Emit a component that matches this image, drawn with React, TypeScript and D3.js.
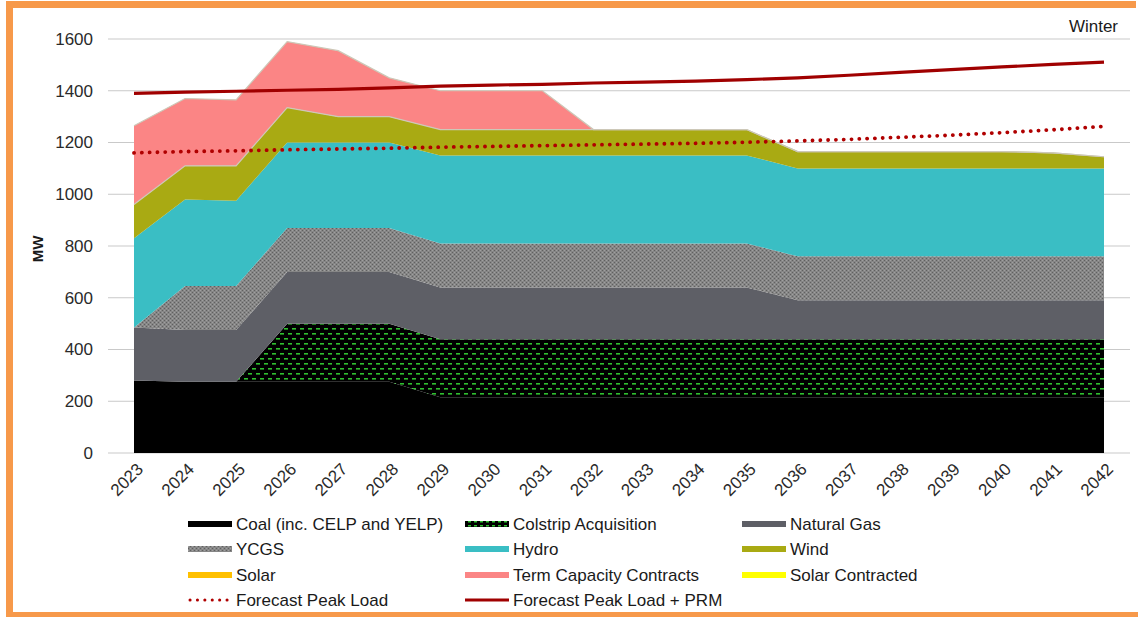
import React from "react";
import * as d3 from "d3";

// Winter capacity stack (MW) by year
const years = [2023, 2024, 2025, 2026, 2027, 2028, 2029, 2030, 2031, 2032, 2033, 2034, 2035, 2036, 2037, 2038, 2039, 2040, 2041, 2042];
const coal = [280, 275, 275, 275, 275, 275, 215, 215, 215, 215, 215, 215, 215, 215, 215, 215, 215, 215, 215, 215];
const colstrip = [0, 0, 0, 225, 225, 225, 225, 225, 225, 225, 225, 225, 225, 225, 225, 225, 225, 225, 225, 225];
const naturalGas = [205, 200, 200, 200, 200, 200, 200, 200, 200, 200, 200, 200, 200, 150, 150, 150, 150, 150, 150, 150];
const ycgs = [0, 170, 170, 170, 170, 170, 170, 170, 170, 170, 170, 170, 170, 170, 170, 170, 170, 170, 170, 170];
const hydro = [345, 335, 330, 330, 330, 330, 340, 340, 340, 340, 340, 340, 340, 340, 340, 340, 340, 340, 340, 340];
const wind = [130, 130, 135, 135, 100, 100, 100, 100, 100, 100, 100, 100, 100, 65, 65, 65, 65, 65, 60, 45];
const solar = [0, 0, 0, 0, 0, 0, 0, 0, 0, 0, 0, 0, 0, 0, 0, 0, 0, 0, 0, 0];
const termContracts = [305, 260, 255, 255, 255, 150, 150, 150, 150, 0, 0, 0, 0, 0, 0, 0, 0, 0, 0, 0];
const solarContracted = [0, 0, 0, 0, 0, 0, 0, 0, 0, 0, 0, 0, 0, 0, 0, 0, 0, 0, 0, 0];
const peakLoad = [1160, 1165, 1168, 1172, 1175, 1178, 1182, 1185, 1188, 1191, 1194, 1197, 1201, 1206, 1212, 1220, 1228, 1238, 1249, 1262];
const peakLoadPrm = [1390, 1395, 1398, 1402, 1405, 1411, 1418, 1422, 1425, 1430, 1433, 1437, 1443, 1450, 1460, 1471, 1482, 1492, 1502, 1511];
const yTicks = [0, 200, 400, 600, 800, 1000, 1200, 1400, 1600];

const seriesKeys = ["coal", "colstrip", "gas", "ycgs", "hydro", "wind", "solar", "term", "solarC"];
const seriesValues: Record<string, number[]> = {
  coal, colstrip, gas: naturalGas, ycgs, hydro, wind, solar, term: termContracts, solarC: solarContracted,
};
const seriesFill: Record<string, string> = {
  coal: "#000000",
  colstrip: "url(#colstripPat)",
  gas: "#5e5f66",
  ycgs: "url(#ycgsPat)",
  hydro: "#3abec4",
  wind: "#a9aa13",
  solar: "#ffc000",
  term: "#fb8585",
  solarC: "#ffff00",
};

const legendItems = [
  { label: "Coal (inc. CELP and YELP)", kind: "box", fill: "#000000" },
  { label: "Colstrip Acquisition", kind: "box", fill: "url(#colstripLeg)" },
  { label: "Natural Gas", kind: "box", fill: "#5e5f66" },
  { label: "YCGS", kind: "box", fill: "url(#ycgsPat)" },
  { label: "Hydro", kind: "box", fill: "#3abec4" },
  { label: "Wind", kind: "box", fill: "#a9aa13" },
  { label: "Solar", kind: "box", fill: "#ffc000" },
  { label: "Term Capacity Contracts", kind: "box", fill: "#fb8585" },
  { label: "Solar Contracted", kind: "box", fill: "#ffff00" },
  { label: "Forecast Peak Load", kind: "dot", fill: "#b00000" },
  { label: "Forecast Peak Load + PRM", kind: "line", fill: "#a00000" },
];

const ORANGE = "#f7994a";
const FONT = "Arial, 'Liberation Sans', Helvetica, sans-serif";

export default function App() {
  const W = 1138;
  const H = 617;
  const plotLeft = 108;
  const plotRight = 1130;

  const x = d3.scalePoint<number>().domain(years).range([134, 1104]);
  const y = d3.scaleLinear().domain([0, 1600]).range([453, 39]);

  const rows = years.map((yr, i) => {
    const r: Record<string, number> = { year: yr };
    seriesKeys.forEach((k) => (r[k] = seriesValues[k][i]));
    return r;
  });
  const stacked = d3.stack<Record<string, number>>().keys(seriesKeys)(rows);

  const area = d3
    .area<d3.SeriesPoint<Record<string, number>>>()
    .x((d) => x(d.data.year) as number)
    .y0((d) => y(d[0]))
    .y1((d) => y(d[1]));

  const topLine = d3
    .line<d3.SeriesPoint<Record<string, number>>>()
    .x((d) => x(d.data.year) as number)
    .y((d) => y(d[1]));

  const loadLine = d3
    .line<number>()
    .x((_, i) => x(years[i]) as number)
    .y((v) => y(v));

  const windLayer = stacked.find((s) => s.key === "wind")!;
  const termLayer = stacked.find((s) => s.key === "term")!;

  const colX = [188, 465, 742];
  const rowY = [524, 549, 575, 600];

  return (
    <svg
      width={W}
      height={H}
      style={{ position: "absolute", left: 0, top: 0, background: "#ffffff" }}
      fontFamily={FONT}
    >
      <defs>
        <pattern id="ycgsPat" width="4" height="4" patternUnits="userSpaceOnUse">
          <rect width="4" height="4" fill="#868686" />
          <rect x="0" y="0" width="1" height="1" fill="#606060" />
          <rect x="2" y="2" width="1" height="1" fill="#606060" />
          <rect x="2" y="0" width="1" height="1" fill="#a0a0a0" />
          <rect x="0" y="2" width="1" height="1" fill="#a0a0a0" />
        </pattern>
        <pattern id="colstripPat" width="8" height="10" patternUnits="userSpaceOnUse" y="2">
          <rect width="8" height="10" fill="#000000" />
          <rect x="0" y="1" width="4" height="1.6" fill="#2fbf2f" />
          <rect x="4" y="6" width="4" height="1.6" fill="#2fbf2f" />
        </pattern>
        <pattern id="colstripLeg" width="6" height="4" patternUnits="userSpaceOnUse">
          <rect width="6" height="4" fill="#000000" />
          <rect x="0" y="1" width="3" height="1.5" fill="#2fbf2f" />
        </pattern>
      </defs>

      {/* frame */}
      <rect x={6} y={1} width={W - 8} height={7} fill={ORANGE} />
      <rect x={6} y={1} width={7} height={H} fill={ORANGE} />
      <rect x={6} y={612} width={W - 6} height={5} fill={ORANGE} />

      {/* gridlines */}
      {yTicks.map((t) => (
        <line key={t} x1={plotLeft} x2={plotRight} y1={y(t)} y2={y(t)} stroke="#c9c9c9" strokeWidth={1.2} />
      ))}

      {/* stacked areas */}
      {stacked.map((s) => (
        <path key={s.key} d={area(s) || ""} fill={seriesFill[s.key]} />
      ))}
      <path d={topLine(windLayer) || ""} fill="none" stroke="#cdc8b8" strokeWidth={1.2} />
      <path d={topLine(termLayer) || ""} fill="none" stroke="#cdc8b8" strokeWidth={1.2} />

      {/* load lines */}
      <path d={loadLine(peakLoad) || ""} fill="none" stroke="#b00000" strokeWidth={3.8} strokeDasharray="0.1 7.7" strokeLinecap="round" />
      <path d={loadLine(peakLoadPrm) || ""} fill="none" stroke="#a00000" strokeWidth={3.2} />

      {/* y axis */}
      {yTicks.map((t) => (
        <text key={t} x={93} y={y(t)} dy="0.35em" textAnchor="end" fontSize={17} fill="#2a2a2a">
          {t}
        </text>
      ))}
      <text transform="translate(43,249) rotate(-90)" textAnchor="middle" fontSize={15} fontWeight="bold" fill="#1a1a1a">
        MW
      </text>

      {/* x axis */}
      {years.map((yr) => (
        <text
          key={yr}
          transform={`translate(${(x(yr) as number) + 6},${466}) rotate(-45)`}
          textAnchor="end"
          dy="0.35em"
          fontSize={17}
          fill="#2a2a2a"
        >
          {yr}
        </text>
      ))}

      <text x={1118} y={32} textAnchor="end" fontSize={17} fill="#1a1a1a">
        Winter
      </text>

      {/* legend */}
      {legendItems.map((it, i) => {
        const cx = colX[i % 3];
        const cy = rowY[Math.floor(i / 3)];
        return (
          <g key={it.label}>
            {it.kind === "box" && <rect x={cx} y={cy - 3} width={44} height={6} fill={it.fill} />}
            {it.kind === "dot" && (
              <line x1={cx + 2} x2={cx + 44} y1={cy} y2={cy} stroke={it.fill} strokeWidth={3} strokeDasharray="0.1 7.3" strokeLinecap="round" />
            )}
            {it.kind === "line" && <line x1={cx} x2={cx + 44} y1={cy} y2={cy} stroke={it.fill} strokeWidth={3} />}
            <text x={cx + 48} y={cy} dy="0.36em" fontSize={17} fill="#1a1a1a">
              {it.label}
            </text>
          </g>
        );
      })}
    </svg>
  );
}
